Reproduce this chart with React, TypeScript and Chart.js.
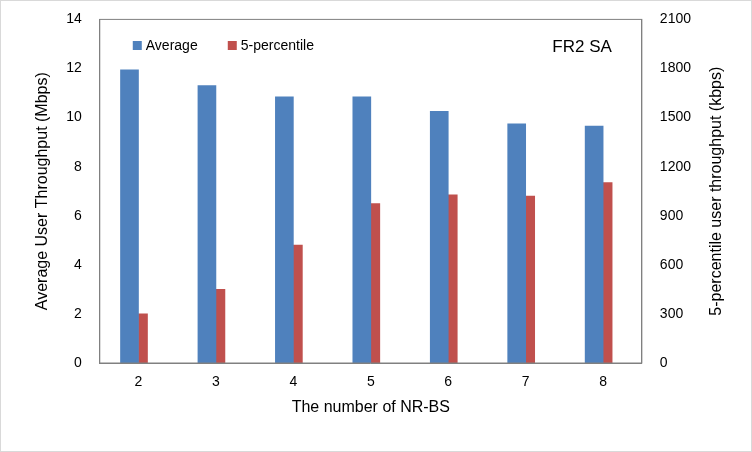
import React, { useEffect, useRef } from "react";
import { Chart, registerables } from "chart.js";
Chart.register(...registerables);

const categories = ["2", "3", "4", "5", "6", "7", "8"];
const averageMbps = [11.95, 11.3, 10.85, 10.85, 10.25, 9.75, 9.65];
const pct5Kbps = [300, 450, 720, 975, 1028, 1020, 1103];
const BLUE = "#4F81BD";
const RED = "#C0504D";

const overlay = {
  id: "overlay",
  afterDraw(chart: any) {
    const { ctx, chartArea: a } = chart;
    ctx.save();
    ctx.font = "14px 'Liberation Sans', Arial, sans-serif";
    ctx.textBaseline = "middle";
    ctx.fillStyle = BLUE;
    ctx.fillRect(a.left + 33, 40, 9, 9);
    ctx.fillStyle = "#000";
    ctx.fillText("Average", a.left + 46, 45);
    ctx.fillStyle = RED;
    ctx.fillRect(a.left + 128, 40, 9, 9);
    ctx.fillStyle = "#000";
    ctx.fillText("5-percentile", a.left + 141, 45);
    ctx.font = "17px 'Liberation Sans', Arial, sans-serif";
    ctx.textAlign = "right";
    ctx.fillText("FR2 SA", a.right - 30, 46);
    ctx.strokeStyle = "#808080";
    ctx.lineWidth = 1;
    ctx.strokeRect(a.left, a.top, a.right - a.left, a.bottom - a.top);
    ctx.font = "16px 'Liberation Sans', Arial, sans-serif";
    ctx.textAlign = "center";
    ctx.translate(716, (a.top + a.bottom) / 2);
    ctx.rotate(-Math.PI / 2);
    ctx.fillText("5-percentile user throughput (kbps)", 0, 0);
    ctx.restore();
  },
};

export default function App() {
  const ref = useRef<HTMLCanvasElement>(null);
  useEffect(() => {
    document.body.style.margin = "0";
    const font = { family: "'Liberation Sans', Arial, sans-serif", size: 14 };
    const chart = new Chart(ref.current!, {
      type: "bar",
      data: {
        labels: categories,
        datasets: [
          { label: "Average", data: averageMbps, backgroundColor: BLUE, yAxisID: "y", barThickness: 18, categoryPercentage: 0.346 } as any,
          { label: "5-percentile", data: pct5Kbps, backgroundColor: RED, yAxisID: "y2", barThickness: 9, categoryPercentage: 0.346 } as any,
        ],
      },
      options: {
        animation: false,
        responsive: false,
        layout: { padding: { top: 16, left: 28, right: 50, bottom: 30 } },
        plugins: { legend: { display: false }, tooltip: { enabled: false } },
        scales: {
          x: {
            grid: { display: false },
            border: { color: "#808080" },
            ticks: { color: "#000", font },
            title: { display: true, text: "The number of NR-BS", color: "#000", font: { ...font, size: 16 } },
          },
          y: {
            min: 0, max: 14,
            ticks: { stepSize: 2, color: "#000", font, padding: 10 },
            grid: { display: false },
            border: { color: "#808080" },
            title: { display: true, text: "Average User Throughput (Mbps)", color: "#000", font: { ...font, size: 16 } },
          },
          y2: {
            position: "right",
            min: 0, max: 2100,
            ticks: { stepSize: 300, color: "#000", font, padding: 10, callback: (v: any) => String(v) },
            grid: { display: false },
            border: { color: "#808080" },
          },
        },
      },
      plugins: [overlay],
    });
    return () => chart.destroy();
  }, []);
  return (
    <div style={{ width: 752, height: 452, boxSizing: "border-box", border: "1px solid #d9d9d9", background: "#fff" }}>
      <canvas ref={ref} width={750} height={450} />
    </div>
  );
}
